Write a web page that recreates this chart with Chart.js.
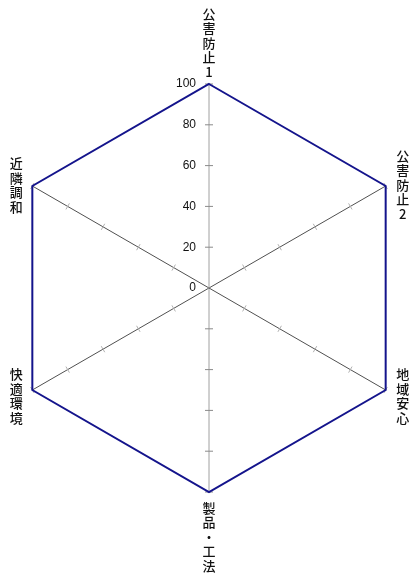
<!DOCTYPE html>
<html>
<head>
<meta charset="utf-8">
<script src="https://cdn.jsdelivr.net/npm/chart.js@4/dist/chart.umd.min.js"></script>
<style>
    html, body { margin: 0; padding: 0; overflow: hidden; background: #fff; }
    canvas { display: block; }
</style>
</head>
<body>
<canvas id="radar-chart" width="418" height="576"></canvas>
<script>
// chart data
const axisNames  = ['公害防止1', '公害防止2', '地域安心', '製品・工法', '快適環境', '近隣調和'];
const scores     = [100, 100, 100, 100, 100, 100];
const tickValues = [0, 20, 40, 60, 80, 100];

var radar_chart = (function (){

    const   LABEL_FONT = '500 13px "Noto Sans CJK JP", sans-serif',
            TICK_FONT = '12px "Liberation Sans", Arial, sans-serif',
            LINE_HEIGHT = 14.5,
            NAVY = '#14148c';

    // small cross marks on every axis + value labels on the top axis
    const tickMarks = {
        id: 'tickMarks',
        beforeDatasetsDraw(chart) {
            const scale = chart.scales.r, ctx = chart.ctx;
            ctx.save();
            ctx.lineWidth = 1;
            for ( var i=0 ; i<axisNames.length ; i++ ) {
                const vertical = (i === 0 || i === 3);
                ctx.strokeStyle = vertical ? '#8a8a8a' : '#b0b0b0';
                const half = vertical ? 4 : 3.5;
                tickValues.forEach(v => {
                    if (v === 0) return;
                    const p = scale.getPointPosition(i, scale.getDistanceFromCenterForValue(v));
                    const nx = -Math.sin(p.angle), ny = Math.cos(p.angle);
                    ctx.beginPath();
                    ctx.moveTo(p.x - nx * half, p.y - ny * half);
                    ctx.lineTo(p.x + nx * half, p.y + ny * half);
                    ctx.stroke();
                });
            }

            ctx.fillStyle = '#111';
            ctx.font = TICK_FONT;
            ctx.textAlign = 'right';
            ctx.textBaseline = 'middle';
            tickValues.forEach(v => {
                const p = scale.getPointPosition(0, scale.getDistanceFromCenterForValue(v));
                ctx.fillText(String(v), p.x - 13, p.y);
            });
            ctx.restore();
        },
        afterDraw(chart) {
            // axis names, one character per line
            const scale = chart.scales.r, ctx = chart.ctx;
            ctx.save();
            ctx.fillStyle = '#111';
            ctx.font = LABEL_FONT;
            ctx.textAlign = 'center';
            ctx.textBaseline = 'middle';
            axisNames.forEach((name, i) => {
                const chars = Array.from(name);
                const p = scale.getPointPosition(i, scale.drawingArea);
                const n = chars.length;
                var x = p.x, y0;
                if (Math.abs(Math.cos(p.angle)) < 0.01) {
                    if (p.y < scale.yCenter) y0 = p.y - 12 - (n - 1) * LINE_HEIGHT;
                    else y0 = p.y + 16;
                } else {
                    x = p.x + (Math.cos(p.angle) > 0 ? 17 : -16);
                    const mid = p.y < scale.yCenter ? p.y - 1 : p.y + 6;
                    y0 = mid - (n - 1) * LINE_HEIGHT / 2;
                }
                chars.forEach((c, k) => ctx.fillText(c, x, y0 + k * LINE_HEIGHT));
            });
            ctx.restore();
        }
    };

    drawRadar = () => {
        new Chart(document.getElementById('radar-chart'), {
            type: 'radar',
            data: {
                labels: axisNames,
                datasets: [{
                    data: scores,
                    borderColor: NAVY,
                    borderWidth: 2,
                    backgroundColor: 'rgba(0,0,0,0)',
                    fill: false,
                    pointRadius: 0,
                    pointHoverRadius: 0
                }]
            },
            options: {
                responsive: false,
                animation: false,
                layout: { padding: { top: 84, bottom: 84, left: 0, right: 0 } },
                plugins: {
                    legend: { display: false },
                    tooltip: { enabled: false }
                },
                scales: {
                    r: {
                        min: 0,
                        max: 100,
                        ticks: { display: false, stepSize: 20 },
                        grid: { display: false },
                        pointLabels: { display: false },
                        angleLines: {
                            display: true,
                            lineWidth: 1,
                            color: (ctx) => (ctx.index === 0 || ctx.index === 3) ? '#a0a0a0' : '#505050'
                        }
                    }
                }
            },
            plugins: [tickMarks]
        });
    }

    return { draw: drawRadar }
}());

radar_chart.draw();
</script>
</body>
</html>
